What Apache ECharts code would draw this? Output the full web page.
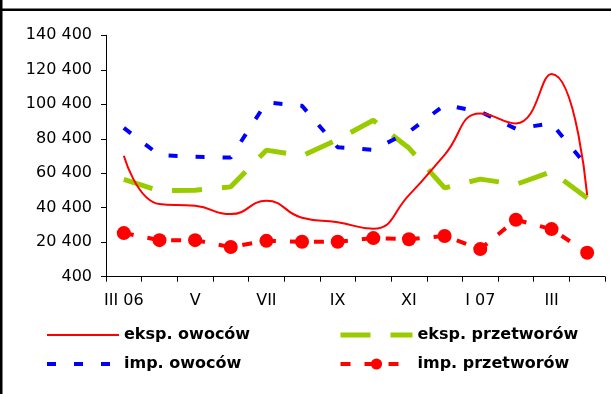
<!DOCTYPE html>
<html>
<head>
<meta charset="utf-8">
<script src="https://cdn.jsdelivr.net/npm/echarts@6/dist/echarts.min.js"></script>
<style>
html,body{margin:0;padding:0;background:#fff;}
#chart{width:611px;height:394px;}
</style>
</head>
<body>
<div id="chart"></div>
<script>
var categories = ['III 06','IV','V','VI','VII','VIII','IX','X','XI','XII','I 07','II','III','IV'];
var yTicks = [400, 20400, 40400, 60400, 80400, 100400, 120400, 140400];
var eksOwocow = [70500, 42500, 41500, 36700, 44400, 34600, 32000, 28200, 47700, 71100, 95000, 89300, 118000, 47700];
var eksPrzetworow = [56800, 50200, 50600, 52500, 73800, 70500, 80000, 91100, 75000, 51900, 57000, 53900, 61300, 46100];
var impOwocow = [86700, 70900, 69900, 69500, 101500, 99500, 75500, 74000, 84400, 100000, 96100, 86200, 89300, 64300];
var impPrzetworow = [25700, 21600, 21600, 17600, 21200, 20700, 20700, 22800, 22100, 24000, 16400, 33400, 28000, 14300];
var seriesNames = ['eksp. owoców', 'eksp. przetworów', 'imp. owoców', 'imp. przetworów'];

function fmt(v){ return String(v).replace(/\B(?=(\d{3})+(?!\d))/g, ' '); }

var chart = echarts.init(document.getElementById('chart'), null, {renderer:'canvas'});
var FONT = 'DejaVu Sans';
var legendText = {fontFamily: FONT, fontWeight: 'bold', fontSize: 16, color: '#000'};
var noMarker = {opacity: 0};
var styles = [
  {color: '#FF0000', width: 2, type: 'solid'},
  {color: '#99CC00', width: 5, type: [30, 20]},
  {color: '#0000FF', width: 4, type: [9, 18]},
  {color: '#FF0000', width: 4, type: [10, 14]}
];
chart.setOption({
  animation: false,
  backgroundColor: '#fff',
  grid: {left: 106, right: 6, top: 35.3, bottom: 117.3, containLabel: false},
  graphic: [
    {type: 'rect', shape: {x: 0, y: 0, width: 2.5, height: 394}, style: {fill: '#000'}},
    {type: 'rect', shape: {x: 0, y: 8.5, width: 611, height: 2.5}, style: {fill: '#000'}},
    {type: 'text', left: 96, top: -15, style: {text: '(t/y)', fontFamily: FONT, fontSize: 16, fill: '#000'}}
  ],
  legend: [
    {left: 40, top: 322, orient: 'vertical', itemWidth: 72, itemHeight: 14, itemGap: 13,
     data: [{name: seriesNames[0], itemStyle: noMarker, lineStyle: styles[0]},
            {name: seriesNames[2], itemStyle: noMarker, lineStyle: styles[2]}],
     textStyle: legendText},
    {left: 333, top: 322, orient: 'vertical', itemWidth: 72, itemHeight: 14, itemGap: 13,
     data: [{name: seriesNames[1], itemStyle: noMarker, lineStyle: styles[1]},
            {name: seriesNames[3], lineStyle: styles[3]}],
     textStyle: legendText}
  ],
  xAxis: {
    type: 'category', data: categories, boundaryGap: true,
    axisLine: {lineStyle: {color: '#000', width: 1}},
    axisTick: {show: true, interval: 0, length: 5, lineStyle: {color: '#000'}},
    axisLabel: {interval: 1, margin: 16, fontFamily: FONT, fontSize: 16, color: '#000'},
    splitLine: {show: false}
  },
  yAxis: {
    type: 'value', min: 400, max: 140400,
    axisLine: {show: true, lineStyle: {color: '#000', width: 1}},
    axisTick: {show: true, length: 5, lineStyle: {color: '#000'}, customValues: yTicks},
    axisLabel: {margin: 14, fontFamily: FONT, fontSize: 16, color: '#000', customValues: yTicks, formatter: fmt},
    splitLine: {show: false}
  },
  series: [
    {name: seriesNames[0], type: 'line', data: eksOwocow, smooth: 0.5, symbol: 'none',
     lineStyle: styles[0], itemStyle: {color: '#FF0000'}, z: 4},
    {name: seriesNames[1], type: 'line', data: eksPrzetworow, symbol: 'none',
     lineStyle: styles[1], itemStyle: {color: '#99CC00'}, z: 2},
    {name: seriesNames[2], type: 'line', data: impOwocow, symbol: 'none',
     lineStyle: styles[2], itemStyle: {color: '#0000FF'}, z: 3},
    {name: seriesNames[3], type: 'line', data: impPrzetworow, symbol: 'circle', symbolSize: 14, showSymbol: true,
     lineStyle: styles[3], itemStyle: {color: '#FF0000'}, z: 5}
  ]
});
</script>
</body>
</html>
